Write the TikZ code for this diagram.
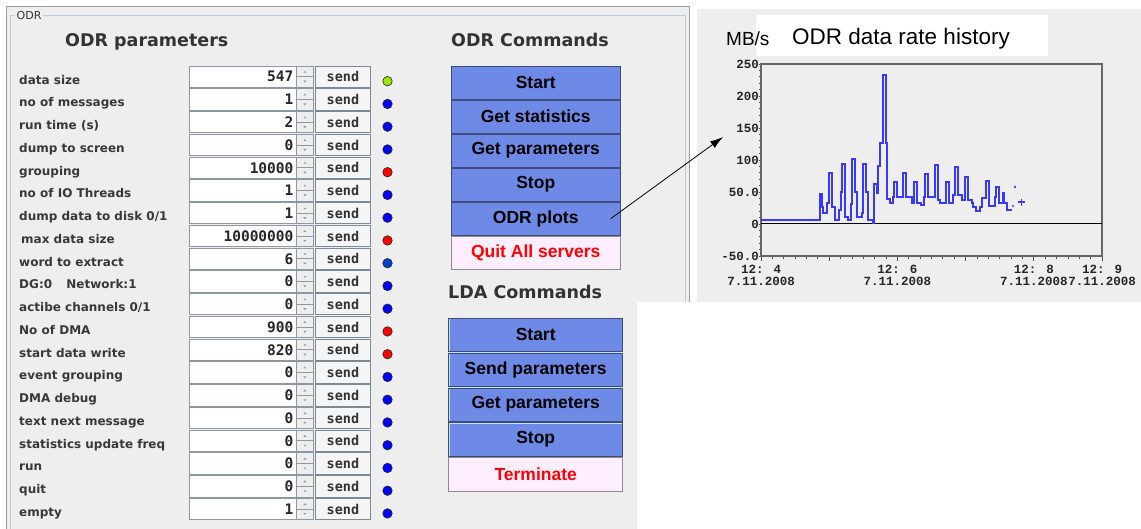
\documentclass[tikz,border=0pt]{standalone}
\usepackage{fontspec}
\usetikzlibrary{arrows.meta,calc}
\newfontfamily\labfont{DejaVu Sans}
\newfontfamily\numfont{DejaVu Sans Mono}
\newfontfamily\arialfont{Liberation Sans}
\newfontfamily\courfont{Liberation Mono}
\definecolor{panel}{HTML}{EEEEEE}
\definecolor{txtgray}{HTML}{383838}
\definecolor{btnblue}{HTML}{6D8AE6}
\definecolor{btnlight}{HTML}{B8E6FA}
\definecolor{btndark}{HTML}{3E4A7A}
\definecolor{quitpink}{HTML}{FFEEFF}
\definecolor{fieldborder}{HTML}{8C98A6}
\definecolor{sendborder}{HTML}{7A8A99}
\definecolor{dotgreen}{HTML}{99E600}
\definecolor{dotblue}{HTML}{0000FF}
\definecolor{dotbluedark}{HTML}{0040CC}
\definecolor{dotred}{HTML}{FF0000}
\definecolor{plotblue}{HTML}{3838FF}
\definecolor{titleblue}{HTML}{B8CCE0}
\definecolor{outerline}{HTML}{9C9C9C}
\tikzset{
  lab/.style={anchor=base west, inner sep=0pt, font=\labfont\bfseries\fontsize{12}{13}\selectfont, text=txtgray},
  fieldbox/.style={draw=fieldborder, fill=white, line width=0.8pt, anchor=north west,
    minimum height=21.3pt, inner xsep=3pt, inner ysep=0pt, text width=100.7pt, align=right,
    font=\numfont\bfseries\fontsize{14.5}{15}\selectfont, text=black!85},
  spinbox/.style={draw=fieldborder, fill=panel, line width=0.8pt, anchor=north west,
    minimum width=17pt, minimum height=21.3pt, inner sep=0pt},
  sendbtn/.style={draw=sendborder, fill=white!96!black, line width=0.8pt, anchor=north west,
    minimum width=55pt, minimum height=21.3pt, inner sep=0pt,
    font=\numfont\bfseries\fontsize{13.5}{14}\selectfont, text=black!80},
  statdot/.style={circle, draw=black!85, line width=0.6pt, minimum size=9.5pt, inner sep=0pt},
  cmdbase/.style={anchor=north west, line width=0.8pt, inner sep=0pt,
    font=\arialfont\bfseries\fontsize{17.5}{18}\selectfont},
  cmdbtn/.style={cmdbase, fill=btnblue, draw=btndark, text=black,
    path picture={\draw[btnlight, line width=2.4pt] (path picture bounding box.south west) -- (path picture bounding box.north west) -- (path picture bounding box.north east);}},
  quitbtn/.style={cmdbase, fill=quitpink, draw=black!45, text=red},
  paneltitle/.style={anchor=base west, inner sep=0pt, font=\labfont\bfseries\fontsize{17.5}{18}\selectfont, text=black!80},
  axislab/.style={inner sep=0pt, font=\courfont\bfseries\fontsize{12.5}{12}\selectfont, text=black!85},
  spinarrow/.style={fill=black!40},
}
\newcommand\paramrow[4]{%
  \pgfmathsetmacro\rowtop{65.7+22.75*#1}%
  \node[lab] (lab#1) at (19,\rowtop+18.5) {#2};
  \node[fieldbox] (fld#1) at (189.3,\rowtop) {#3};
  \node[spinbox] (spn#1) at (296,\rowtop) {};
  \draw[fieldborder, line width=0.8pt] (spn#1.west) -- (spn#1.east);
  \fill[spinarrow] ($(spn#1.center)+(-1.6,-4)$) -- ++(3.2,0) -- ++(-1.6,-1.8) -- cycle;
  \fill[spinarrow] ($(spn#1.center)+(-1.6,4)$) -- ++(3.2,0) -- ++(-1.6,1.8) -- cycle;
  \node[sendbtn] (snd#1) at (315,\rowtop) {send};
  \node[statdot, fill=#4] (dot#1) at (387.5,\rowtop+15.5) {};
}
\begin{document}
\begin{tikzpicture}[x=1pt, y=-1pt]
\useasboundingbox (0,0) rectangle (1141,529);
\clip (0,0) rectangle (1141,529);
\fill[white] (0,0) rectangle (1141,529);

% left panel
\draw[outerline, fill=panel, line width=0.8pt] (6,6.5) rectangle (689,545);
\draw[titleblue, line width=1pt] (10,15.7) rectangle (685,545);
\node[anchor=west, fill=panel, inner xsep=1.5pt, inner ysep=1pt, font=\labfont\fontsize{11}{12}\selectfont, text=black!80] (odrtag) at (15,15.7) {ODR};

\node[paneltitle] (partitle) at (65,47) {ODR parameters};
\node[paneltitle] (odrtitle) at (451,47) {ODR Commands};
\node[paneltitle] (ldatitle) at (448,299) {LDA Commands};

\paramrow{0}{data size}{547}{dotgreen}
\paramrow{1}{no of messages}{1}{dotblue}
\paramrow{2}{run time (s)}{2}{dotblue}
\paramrow{3}{dump to screen}{0}{dotblue}
\paramrow{4}{grouping}{10000}{dotred}
\paramrow{5}{no of IO Threads}{1}{dotblue}
\paramrow{6}{dump data to disk 0/1}{1}{dotblue}
\paramrow{7}{\hspace{2pt}max data size}{10000000}{dotred}
\paramrow{8}{word to extract}{6}{dotbluedark}
\paramrow{9}{DG:0\hspace{10pt} Network:1}{0}{dotblue}
\paramrow{10}{actibe channels 0/1}{0}{dotblue}
\paramrow{11}{No of DMA}{900}{dotred}
\paramrow{12}{start data write}{820}{dotred}
\paramrow{13}{event grouping}{0}{dotblue}
\paramrow{14}{DMA debug}{0}{dotblue}
\paramrow{15}{text next message}{0}{dotblue}
\paramrow{16}{statistics update freq}{0}{dotblue}
\paramrow{17}{run}{0}{dotblue}
\paramrow{18}{quit}{0}{dotblue}
\paramrow{19}{empty}{1}{dotblue}

% ODR command buttons
\begin{scope}[every node/.append style={minimum width=169.3pt, minimum height=33pt}]
\node[cmdbtn] (ostart) at (450.7,65.7) {Start};
\node[cmdbtn] (ostats) at (450.7,99.7) {Get statistics};
\node[cmdbtn] (oparams) at (450.7,133.7) {Get parameters};
\node[cmdbtn] (ostop) at (450.7,167.7) {Stop};
\node[cmdbtn] (plots) at (450.7,201.7) {ODR plots};
\node[quitbtn] (oquit) at (450.7,235.7) {Quit All servers};
\end{scope}

% LDA command buttons
\begin{scope}[every node/.append style={minimum width=174pt, minimum height=33.5pt, font=\arialfont\bfseries\fontsize{18}{19}\selectfont}]
\node[cmdbtn] (lstart) at (448.3,317.7) {Start};
\node[cmdbtn] (lsend) at (448.3,352.6) {Send parameters};
\node[cmdbtn] (lparams) at (448.3,387.5) {Get parameters};
\node[cmdbtn] (lstop) at (448.3,422.4) {Stop};
\node[quitbtn] (lterm) at (448.3,457.3) {Terminate};
\end{scope}

% white cut-out bottom right
\fill[white] (637,302) rectangle (1141,529);

% chart panel
\fill[panel] (697,9) rectangle (1141,302);
\fill[white] (756,15) rectangle (1048,56);
\node[anchor=base west, inner sep=0pt, font=\arialfont\fontsize{22.5}{24}\selectfont] (charttitle) at (792,45) {ODR data rate history};
\node[anchor=base west, inner sep=0pt, font=\arialfont\fontsize{19}{20}\selectfont] (unitlab) at (726,46) {MB/s};

% axes
\foreach \v in {-50,-40,...,250} \draw[black!70, line width=0.7pt] (758.5,{224-0.64*\v}) -- (761,{224-0.64*\v});
\foreach \v/\t in {250/250,200/200,150/150,100/100,50/50.0,0/0,-50/-50.0}
  \node[axislab, anchor=east] at (759,{224-0.64*\v}) {\t};
\foreach \k in {0,...,30} \draw[black!70, line width=0.8pt] ({761+\k*68.2/6},256) -- ({761+\k*68.2/6},259);
\foreach \k in {0,...,5} \draw[black!70, line width=1pt] ({761+\k*68.2},256) -- ({761+\k*68.2},261);
\draw[black!60, line width=1.3pt] (761,64) rectangle (1102,256);
\draw[black, line width=1pt] (761,224) -- (1102,224);
\node[axislab, anchor=north, align=center] at (761,265) {12: 4\\7.11.2008};
\node[axislab, anchor=north, align=center] at (897.4,265) {12: 6\\7.11.2008};
\node[axislab, anchor=north, align=center] at (1033.8,265) {12: 8\\7.11.2008};
\node[axislab, anchor=north, align=center] at (1102,265) {12: 9\\7.11.2008};

% data trace
\draw[plotblue, line width=2.6pt] plot coordinates {
(761,220) (820,220) (820,194) (822,194) (822,207) (823,207) (823,213) (827,213) (827,203) (829,203) (829,173) (832,173) (832,207) (835,207) (835,220) (839,220) (839,210) (841,210) (841,192) (842,192) (842,164) (845,164) (845,217) (848,217) (848,220) (851,220) (851,204) (852,204) (852,159) (855,159) (855,192) (857,192) (857,217) (862,217) (862,213) (863,213) (863,164) (866,164) (866,192) (868,192) (868,220) (873,220) (873,223) (874,223) (874,184) (877,184) (877,193) (878,193) (878,166) (880,166) (880,143) (883,143) (883,75) (886,75) (886,143) (887,143) (887,199) (890,199) (890,203) (893,203) (893,197) (894,197) (894,182) (897,182) (897,197) (903,197) (903,173) (906,173) (906,197) (912,197) (912,203) (914,203) (914,182) (917,182) (917,203) (921,203) (921,205) (924,205) (924,197) (925,197) (925,174) (928,174) (928,197) (935,197) (935,165) (938,165) (938,200) (940,200) (940,203) (946,203) (946,182) (949,182) (949,203) (953,203) (953,195) (955,195) (955,167) (958,167) (958,195) (962,195) (962,200) (965,200) (965,177) (968,177) (968,200) (972,200) (972,203) (973,203) (973,207) (976,207) (976,211) (980,211) (980,207) (982,207) (982,198) (986,198) (986,181) (989,181) (989,206) (995,206) (995,197) (996,197) (996,187) (999,187) (999,203) (1003,203) (1003,193) (1004,193) (1004,203) (1007,203) (1007,210) (1012,210)
};
\fill[plotblue] (1015,187) circle (1.3);
\fill[plotblue] (1013,206) circle (1.1);
\draw[plotblue, line width=1.8pt] (1018,202.3) -- (1025,202.3) (1021.5,199) -- (1021.5,205.6);

% connector
\coordinate (arrowtip) at (723,137);
\draw[-{Latex[length=13pt,width=8pt]}, line width=0.8pt] ([xshift=-10pt]plots.east) -- (arrowtip);
\end{tikzpicture}
\end{document}
